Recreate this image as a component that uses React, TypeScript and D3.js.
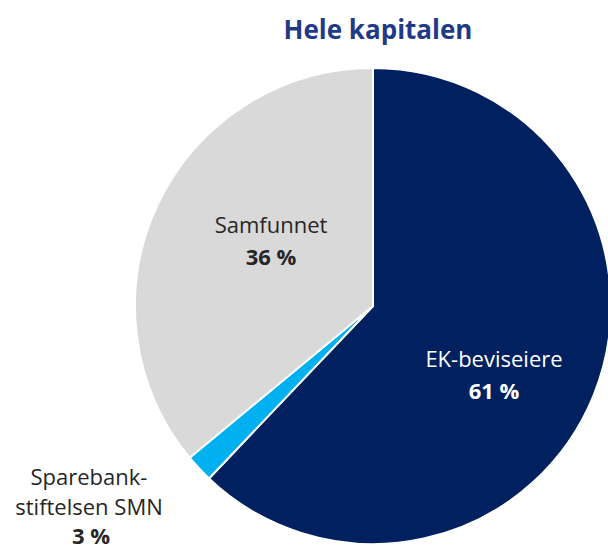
import React from "react";
import * as d3 from "d3";

const title = "Hele kapitalen";
const categories = ["EK-beviseiere", "Sparebankstiftelsen SMN", "Samfunnet"];
const shares = [62.1, 1.9, 36.0];
const pctLabels = ["61 %", "3 %", "36 %"];
const colors = ["#002060", "#00B0F0", "#D9D9D9"];

const W = 608;
const H = 550;
const cx = 373;
const cy = 306;
const R = 238;

export default function App() {
  const data = categories.map((c, i) => ({ c, v: shares[i], i }));
  const pie = d3.pie<any>().sort(null).value((d) => d.v).startAngle(0).endAngle(2 * Math.PI);
  const arcs = pie(data);
  const arc = d3.arc<any>().innerRadius(0).outerRadius(R);
  const font = "'Open Sans', sans-serif";
  const textColor = "#262626";
  const fs = 22;
  return (
    <svg width={W} height={H} style={{ position: "absolute", left: 0, top: 0 }} fontFamily={font}>
      <rect width={W} height={H} fill="#fff" />
      <text x={378} y={39} textAnchor="middle" fontSize={26} fontWeight={700} fill="#1F3A87" fontFamily={font}>
        {title}
      </text>
      <g transform={`translate(${cx},${cy})`}>
        {arcs.map((a, i) => (
          <path key={i} d={arc(a) as string} fill={colors[i]} stroke="#fff" strokeWidth={2} strokeLinejoin="round" />
        ))}
      </g>
      <text x={271} y={233} textAnchor="middle" fontSize={fs} fill={textColor}>Samfunnet</text>
      <text x={271} y={265} textAnchor="middle" fontSize={fs} fontWeight={700} fill={textColor}>{pctLabels[2]}</text>
      <text x={494} y={367} textAnchor="middle" fontSize={fs} fill="#fff">{categories[0]}</text>
      <text x={494} y={399} textAnchor="middle" fontSize={fs} fontWeight={700} fill="#fff">{pctLabels[0]}</text>
      <text x={89} y={485} textAnchor="middle" fontSize={fs} fill={textColor}>Sparebank-</text>
      <text x={89} y={515} textAnchor="middle" fontSize={fs} fill={textColor}>stiftelsen SMN</text>
      <text x={91} y={544} textAnchor="middle" fontSize={fs} fontWeight={700} fill={textColor}>{pctLabels[1]}</text>
    </svg>
  );
}
